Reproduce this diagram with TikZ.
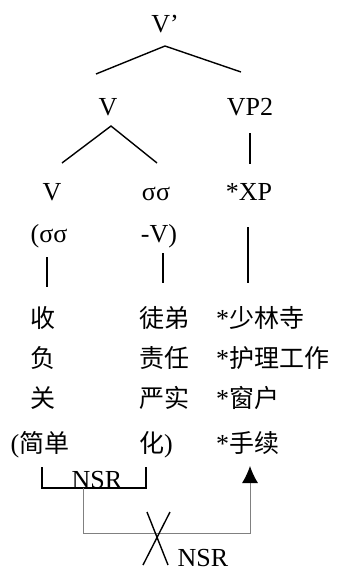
\documentclass[tikz,border=0pt]{standalone}
\usepackage{fontspec}
\setmainfont{Liberation Serif}
\newfontfamily\cjk{Noto Sans CJK SC}
\usetikzlibrary{arrows.meta}
\tikzset{lbl/.style = {inner sep = 0, anchor = base, font = \fontsize{26}{30}\selectfont}}
\tikzset{zh/.style = {lbl, font = \fontsize{25}{30}\selectfont\cjk}}
\tikzset{branch/.style = {line width = 1.4}}
\tikzset{nsr/.style = {gray, line width = 0.9}}
\tikzset{nsrtip/.style = {nsr, -{Latex[black, length = 17pt, width = 16pt]}}}

\begin{document}
\begin{tikzpicture}[x = 1pt, y = -1pt]
      \useasboundingbox (0, 0) rectangle (338, 573);

      % tree
      \node [lbl] (vbar) at (165, 32) {V’};
      \node [lbl] (v) at (108, 115) {V};
      \node [lbl] (vp) at (250, 115) {VP2};
      \node [lbl] (vv) at (52, 200) {V};
      \node [lbl] (ss) at (156, 200) {σσ};
      \node [lbl] (xp) at (249, 200) {*XP};
      \node [lbl] (ssl) at (49, 242) {(σσ};
      \node [lbl] (vr) at (159, 242) {-V)};

      \coordinate (top) at (165, 46);
      \coordinate (topl) at (96, 74);
      \coordinate (topr) at (241, 72);
      \coordinate (mid) at (111, 126);
      \coordinate (midl) at (62, 163);
      \coordinate (midr) at (157, 163);
      \draw [branch] (topl) -- (top) -- (topr);
      \draw [branch] (midl) -- (mid) -- (midr);
      \draw [branch] (250, 133) coordinate (vpa) -- (250, 164) coordinate (vpb);
      \draw [branch] (47, 257) coordinate (la) -- (47, 287) coordinate (lb);
      \draw [branch] (163, 253) coordinate (ra) -- (163, 283) coordinate (rb);
      \draw [branch] (248, 227) coordinate (xa) -- (248, 283) coordinate (xb);

      % words
      \node [zh] (shou) at (43, 327) {收};
      \node [zh] (fu) at (43, 367) {负};
      \node [zh] (guan) at (43, 407) {关};
      \node [lbl] (jian) at (40, 452) {(\cjk\fontsize{25}{30}\selectfont 简单};
      \node [zh] (tudi) at (164, 327) {徒弟};
      \node [zh] (zeren) at (164, 367) {责任};
      \node [zh] (yanshi) at (164, 407) {严实};
      \node [lbl] (hua) at (156, 452) {{\cjk\fontsize{25}{30}\selectfont 化})};
      \node [lbl, anchor = base west] (shaolin) at (216, 327) {*{\cjk\fontsize{25}{30}\selectfont 少林寺}};
      \node [lbl, anchor = base west] (huli) at (216, 367) {*{\cjk\fontsize{25}{30}\selectfont 护理工作}};
      \node [lbl, anchor = base west] (chuang) at (216, 407) {*{\cjk\fontsize{25}{30}\selectfont 窗户}};
      \node [lbl, anchor = base west] (shouxu) at (216, 452) {*{\cjk\fontsize{25}{30}\selectfont 手续}};

      % NSR bracket and blocked path
      \coordinate (bl) at (42, 467);
      \coordinate (br) at (146, 467);
      \draw [branch] (bl) -- (42, 488) -- (146, 488) -- (br);
      \node [lbl] (nsra) at (97, 488) {NSR};
      \coordinate (from) at (83, 488);
      \coordinate (to) at (250, 466);
      \draw [nsrtip] (from) -- (83, 533) -- (250, 533) -- (to);
      \draw [branch] (147, 512) -- (168, 565);
      \draw [branch] (170, 512) -- (143, 565);
      \node [lbl] (nsrb) at (203, 566) {NSR};
\end{tikzpicture}
\end{document}
